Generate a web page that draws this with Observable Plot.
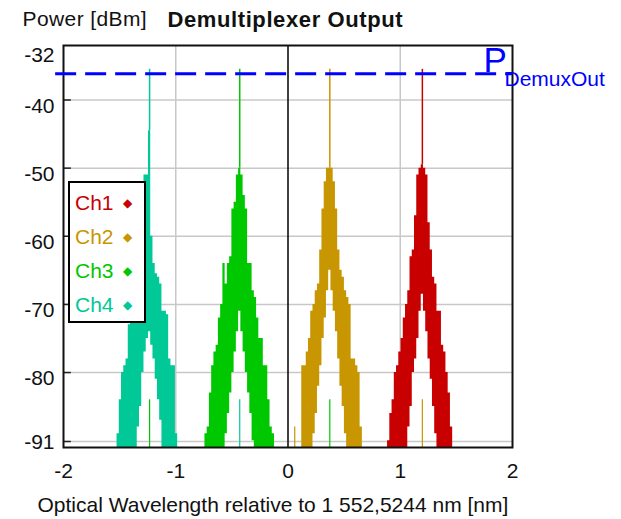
<!DOCTYPE html>
<html><head><meta charset="utf-8">
<script src="https://cdn.jsdelivr.net/npm/d3@7"></script>
<script src="https://cdn.jsdelivr.net/npm/@observablehq/plot@0.6"></script>
<style>
body{margin:0;background:#fff;font-family:"Liberation Sans",Arial,sans-serif}
#wrap{position:relative;width:621px;height:519px}
#legend{position:absolute;left:68px;top:181px;width:74px;height:138px;border:2px solid #000;background:#fff}
#legend div{position:absolute;left:5px;font-size:21px;line-height:22px}
#legend span{position:absolute;left:48px;top:0px;font-size:12px}
</style>
</head><body><div id="wrap"></div>
<script>
const channels = ["Ch1","Ch2","Ch3","Ch4"];
const colors = ["#c80000","#c89600","#00c800","#00c896"];
const centers = [1.197, 0.3725, -0.430, -1.233];
const carrierPeak = [-35.5, -35.5, -35.5, -35.5];
const offsets = [-0.32,-0.30,-0.28,-0.26,-0.24,-0.22,-0.20,-0.18,-0.16,-0.14,-0.12,-0.10,-0.08,-0.06,-0.04,-0.02,0,
                 0.02,0.04,0.06,0.08,0.10,0.12,0.14,0.16,0.18,0.20,0.22,0.24,0.26,0.28,0.30,0.32];
// upper envelope of the noise spectrum (dBm)
const ch1Hi = [-91,-90,-86,-84,-80,-79,-77,-75,-72,-70,-68,-63,-62,-57,-51,-50,-49.5,-50,-51,-58,-62,-66,-67,-71,-71,-76,-77,-80,-83,-88,-91,-91,-91];
const ch2Hi = [-91,-91,-91,-91,-79,-79,-77,-75,-71,-70,-68,-67,-62,-56,-52,-50,-50,-50,-52,-56,-62,-65,-66,-68,-69,-70,-78,-78,-79,-80,-88,-91,-91];
const ch3Hi = [-91,-89,-88,-83,-79,-77,-76,-72,-70,-64,-67,-64,-63,-56,-55,-51,-50,-51,-54,-56,-64,-64,-68,-69,-72,-75,-75,-79,-79,-84,-88,-89,-91];
const ch4Hi = [-91,-91,-89,-84,-80,-79,-78,-73,-72,-70,-68,-64,-60,-56,-51,-51,-44.5,-60,-64,-65.5,-66,-67,-71,-71,-71.5,-78,-79,-79,-89,-91,-91,-91,-91];
// lower envelope of the noise spectrum (dBm)
const ch1Lo = [-91,-91,-91,-91,-91,-91,-91,-91,-91,-91,-88,-85,-80,-78,-75,-71,-68.5,-71,-74,-78,-81,-85,-89,-91,-91,-91,-91,-91,-91,-91,-91,-91,-91];
const ch2Lo = [-91,-91,-91,-91,-91,-91,-91,-91,-91,-89,-86,-82,-79,-75,-72,-68,-65,-68,-71,-74,-78,-82,-85,-89,-91,-91,-91,-91,-91,-91,-91,-91,-91];
const ch3Lo = [-91,-91,-91,-91,-91,-91,-91,-91,-91,-91,-89,-86,-83,-80,-77,-74,-71,-74,-77,-80,-83,-86,-90,-91,-91,-91,-91,-91,-91,-91,-91,-91,-91];
const ch4Lo = [-91,-91,-91,-91,-91,-91,-91,-91,-91,-91,-91,-88,-85,-80,-77,-75,-74,-76,-78,-81,-84,-87,-91,-91,-91,-91,-91,-91,-91,-91,-91,-91,-91];
// crosstalk spikes
const xtalkCh = ["Ch3","Ch4","Ch2","Ch3","Ch2"];
const xtalkX = [-1.233,-0.430,0.06,0.3725,1.197];
const xtalkY = [-84,-84,-88,-84,-84];
const pDemux = -36.15;
const xTicks = [-2,-1,0,1,2];
const xGrid = [-1,1];
const yTicks = [-32,-40,-50,-60,-70,-80,-91];
const xDomain = [-2,2];
const yDomain = [-91,-32];

const his = [ch1Hi, ch2Hi, ch3Hi, ch4Hi];
const los = [ch1Lo, ch2Lo, ch3Lo, ch4Lo];
const band = [];
channels.forEach((c,i)=>offsets.forEach((o,j)=>band.push({ch:c, x:centers[i]+o, hi:his[i][j], lo:los[i][j]})));
const carriers = channels.map((c,i)=>({ch:c, x:centers[i], y:carrierPeak[i], base:his[i][16]}));
const xtalk = xtalkCh.map((c,i)=>({ch:c, x:xtalkX[i], y:xtalkY[i]}));
const colorOf = Object.fromEntries(channels.map((c,i)=>[c,colors[i]]));
const midTicks = yTicks.filter(d=>d!==yDomain[0] && d!==yDomain[1]);
const tickFont = {fontSize: 21, fill: "#111"};

const chart = Plot.plot({
  width: 621, height: 519,
  marginLeft: 63, marginRight: 109, marginTop: 45, marginBottom: 72,
  style: {fontFamily: '"Liberation Sans",Arial,sans-serif', background: "#fff", overflow: "visible"},
  x: {domain: xDomain, axis: null},
  y: {domain: yDomain, axis: null},
  marks: [
    Plot.ruleX(xGrid, {stroke: "#c8c8c8", strokeWidth: 1.5}),
    Plot.ruleY(midTicks, {stroke: "#c8c8c8", strokeWidth: 1.5}),
    Plot.ruleY([yDomain[0]], {stroke: "#c8c8c8", strokeWidth: 1.5, dy: -6}),
    ...channels.map(c => Plot.areaY(band.filter(d=>d.ch===c), {x:"x", y1:"lo", y2:"hi", fill: colorOf[c], curve: "step"})),
    Plot.ruleX(carriers, {x:"x", y1:"base", y2:"y", stroke: d=>colorOf[d.ch], strokeWidth: 1.5}),
    Plot.ruleX(xtalk, {x:"x", y1: yDomain[0], y2:"y", stroke: d=>colorOf[d.ch], strokeWidth: 1.2}),
    Plot.ruleX([0], {stroke: "#000", strokeWidth: 1.5}),
    Plot.ruleY(midTicks, {x1: xDomain[0], x2: xDomain[0] + 0.07, stroke: "#222", strokeWidth: 1.5}),
    Plot.ruleY([yDomain[0]], {x1: xDomain[0], x2: xDomain[0] + 0.07, stroke: "#222", strokeWidth: 1.5, dy: -6}),
    Plot.frame({stroke: "#111", strokeWidth: 2}),
    Plot.ruleY([pDemux], {x1: xDomain[0] - 0.07, x2: xDomain[1], stroke: "#0000ff", strokeWidth: 3, strokeDasharray: "21,9", clip: false}),
    Plot.text(["P"], {x: xDomain[1], y: pDemux, text: d=>d, textAnchor: "start", dx: -29, dy: -13, fontSize: 35, fill: "#0000ff"}),
    Plot.text(["DemuxOut"], {x: xDomain[1], y: pDemux, text: d=>d, textAnchor: "start", dx: -8, dy: 5, fontSize: 21, fill: "#0000ff"}),
    Plot.text(midTicks, {y: d=>d, text: d=>String(d), frameAnchor: "left", textAnchor: "end", dx: -9, dy: 6, ...tickFont}),
    Plot.text([yDomain[1]], {y: d=>d, text: d=>String(d), frameAnchor: "left", textAnchor: "end", dx: -9, dy: 10, ...tickFont}),
    Plot.text([yDomain[0]], {y: d=>d, text: d=>String(d), frameAnchor: "left", textAnchor: "end", dx: -9, dy: -5, ...tickFont}),
    Plot.text(xTicks, {x: d=>d, text: d=>String(d), frameAnchor: "bottom", dy: 30, ...tickFont}),
    Plot.text(["Optical Wavelength relative to 1 552,5244 nm [nm]"], {text: d=>d, frameAnchor: "bottom-left", textAnchor: "start", dx: -26, dy: 64, fontSize: 21, fill: "#111"}),
    Plot.text(["Power [dBm]"], {text: d=>d, frameAnchor: "top-left", textAnchor: "start", dx: -41, dy: -34, fontSize: 21, fill: "#111"}),
    Plot.text(["Demultiplexer Output"], {text: d=>d, frameAnchor: "top-left", textAnchor: "start", dx: 104, dy: -34, fontSize: 22, fontWeight: "bold", fill: "#111"})
  ]
});
d3.select(chart).selectAll("text").filter(function(){ return this.textContent === "Demultiplexer Output"; }).style("letter-spacing", "0.6px");
d3.select(chart).selectAll("text").filter(function(){ return this.textContent === "Power [dBm]"; }).style("letter-spacing", "0.4px");
const wrap = document.getElementById("wrap");
wrap.appendChild(chart);
const legend = document.createElement("div");
legend.id = "legend";
channels.forEach((c,i)=>{
  const row = document.createElement("div");
  row.style.top = (9 + i*34) + "px";
  row.style.color = colors[i];
  row.innerHTML = c + '<span>&#9670;</span>';
  legend.appendChild(row);
});
wrap.appendChild(legend);
</script>
</body></html>
